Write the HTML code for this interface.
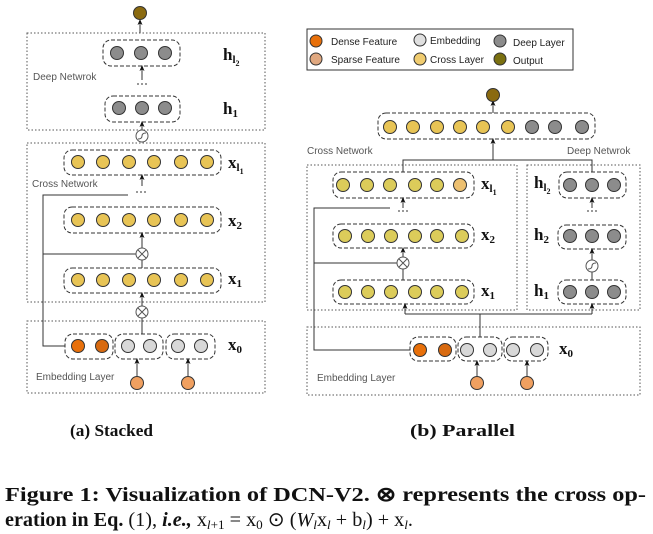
<!DOCTYPE html>
<html><head><meta charset="utf-8"><style>
html,body{margin:0;padding:0;background:#fff;width:653px;height:534px;overflow:hidden}
svg{display:block}
.s{font-family:"Liberation Sans",sans-serif;font-size:10px;fill:#555}
.m{font-family:"Liberation Serif",serif;font-weight:bold;fill:#111}
.cap{font-family:"Liberation Serif",serif;font-weight:bold;fill:#111}
</style></head><body>
<svg width="653" height="534" viewBox="0 0 653 534" xmlns="http://www.w3.org/2000/svg">
<defs>
<marker id="a" markerWidth="6" markerHeight="6" refX="3" refY="3" orient="auto"><path d="M0,0.5 L6,3 L0,5.5 L1.5,3z" fill="#111"/></marker>
</defs>
<g fill="none" stroke="#333" stroke-width="1">
<!-- LEFT dotted boxes -->
<rect x="27" y="33" width="238" height="97" stroke-dasharray="1.5,2" stroke="#555"/>
<rect x="27" y="143" width="238" height="159" stroke-dasharray="1.5,2" stroke="#555"/>
<rect x="27" y="321" width="238" height="72" stroke-dasharray="1.5,2" stroke="#555"/>
<!-- pills -->
<rect x="103" y="40" width="77" height="26" rx="8" stroke-dasharray="4,2"/>
<rect x="105" y="96" width="75" height="26" rx="8" stroke-dasharray="4,2"/>
<rect x="64" y="150" width="157" height="25" rx="8" stroke-dasharray="4,2"/>
<rect x="64" y="207" width="157" height="26" rx="8" stroke-dasharray="4,2"/>
<rect x="64" y="268" width="157" height="25" rx="8" stroke-dasharray="4,2"/>
<rect x="65" y="334" width="48" height="25" rx="8" stroke-dasharray="4,2"/>
<rect x="115" y="334" width="48" height="25" rx="8" stroke-dasharray="4,2"/>
<rect x="166" y="334" width="49" height="25" rx="8" stroke-dasharray="4,2"/>
<!-- connectors left -->
<line x1="140" y1="33" x2="140" y2="22" marker-end="url(#a)"/>
<line x1="142" y1="80" x2="142" y2="68" marker-end="url(#a)"/>
<line x1="137" y1="84" x2="147" y2="84" stroke-dasharray="2,2"/>
<line x1="142" y1="142" x2="142" y2="124" marker-end="url(#a)"/>
<line x1="142" y1="186" x2="142" y2="177" marker-end="url(#a)"/>
<line x1="136" y1="192" x2="147" y2="192" stroke-dasharray="2,2"/>
<polyline points="128,195 43,195 43,346 65,346"/>
<line x1="43" y1="254" x2="137" y2="254"/>
<line x1="142" y1="249" x2="142" y2="235" marker-end="url(#a)"/>
<line x1="142" y1="259" x2="142" y2="268"/>
<line x1="142" y1="307" x2="142" y2="295" marker-end="url(#a)"/>
<line x1="142" y1="317" x2="142" y2="334"/>
<line x1="137" y1="376" x2="137" y2="361" marker-end="url(#a)"/>
<line x1="188" y1="376" x2="188" y2="361" marker-end="url(#a)"/>
<!-- RIGHT -->
<rect x="307" y="29" width="266" height="41" stroke="#333"/>
<rect x="307" y="165" width="210" height="145" stroke-dasharray="1.5,2" stroke="#555"/>
<rect x="527" y="165" width="113" height="145" stroke-dasharray="1.5,2" stroke="#555"/>
<rect x="307" y="327" width="333" height="68" stroke-dasharray="1.5,2" stroke="#555"/>
<rect x="378" y="113" width="217" height="26" rx="8" stroke-dasharray="4,2"/>
<rect x="333" y="172" width="141" height="26" rx="8" stroke-dasharray="4,2"/>
<rect x="333" y="224" width="141" height="24" rx="8" stroke-dasharray="4,2"/>
<rect x="333" y="280" width="141" height="24" rx="8" stroke-dasharray="4,2"/>
<rect x="559" y="172" width="67" height="26" rx="8" stroke-dasharray="4,2"/>
<rect x="558" y="225" width="68" height="24" rx="8" stroke-dasharray="4,2"/>
<rect x="558" y="280" width="68" height="24" rx="8" stroke-dasharray="4,2"/>
<rect x="410" y="337" width="46" height="24" rx="8" stroke-dasharray="4,2"/>
<rect x="458" y="337" width="44" height="24" rx="8" stroke-dasharray="4,2"/>
<rect x="504" y="337" width="44" height="24" rx="8" stroke-dasharray="4,2"/>
<line x1="493" y1="113" x2="493" y2="103" marker-end="url(#a)"/>
<line x1="493" y1="160" x2="493" y2="141" marker-end="url(#a)"/>
<polyline points="403,172 403,160 592,160 592,172"/>
<line x1="403" y1="208" x2="403" y2="200" marker-end="url(#a)"/>
<line x1="398" y1="211" x2="408" y2="211" stroke-dasharray="2,2"/>
<line x1="592" y1="187" x2="592" y2="200" stroke="none"/>
<line x1="592" y1="208" x2="592" y2="200" marker-end="url(#a)"/>
<line x1="587" y1="211" x2="597" y2="211" stroke-dasharray="2,2"/>
<polyline points="390,208 314,208 314,350 410,350"/>
<line x1="314" y1="263" x2="398" y2="263"/>
<line x1="403" y1="258" x2="403" y2="250" marker-end="url(#a)"/>
<line x1="403" y1="268" x2="403" y2="280"/>
<line x1="592" y1="261" x2="592" y2="251" marker-end="url(#a)"/>
<line x1="592" y1="271" x2="592" y2="280"/>
<line x1="480" y1="337" x2="480" y2="314"/>
<polyline points="405,314 592,314"/>
<line x1="405" y1="314" x2="405" y2="306" marker-end="url(#a)"/>
<line x1="592" y1="314" x2="592" y2="306" marker-end="url(#a)"/>
<line x1="477" y1="376" x2="477" y2="363" marker-end="url(#a)"/>
<line x1="527" y1="376" x2="527" y2="363" marker-end="url(#a)"/>
</g>
<!-- op circles -->
<g stroke="#555" fill="#fff" stroke-width="1">
<circle cx="142" cy="136" r="6"/><path d="M138,139 Q142,139 142,136 Q142,133 146,133" fill="none"/>
<circle cx="142" cy="254" r="6"/><path d="M138,250 L146,258 M146,250 L138,258" fill="none"/>
<circle cx="142" cy="312" r="6"/><path d="M138,308 L146,316 M146,308 L138,316" fill="none"/>
<circle cx="403" cy="263" r="6"/><path d="M399,259 L407,267 M407,259 L399,267" fill="none"/>
<circle cx="592" cy="266" r="6"/><path d="M588,269 Q592,269 592,266 Q592,263 596,263" fill="none"/>
</g>
<!-- nodes -->
<g stroke="#333" stroke-width="1">
<circle cx="140" cy="13" r="6.5" fill="#8a6a10"/>
<g fill="#8c8c8c"><circle cx="117" cy="53" r="6.5"/><circle cx="141" cy="53" r="6.5"/><circle cx="165" cy="53" r="6.5"/>
<circle cx="119" cy="108" r="6.5"/><circle cx="142" cy="108" r="6.5"/><circle cx="165" cy="108" r="6.5"/></g>
<g fill="#e8c455">
<circle cx="78" cy="162" r="6.5"/><circle cx="103" cy="162" r="6.5"/><circle cx="129" cy="162" r="6.5"/><circle cx="154" cy="162" r="6.5"/><circle cx="181" cy="162" r="6.5"/><circle cx="207" cy="162" r="6.5"/>
<circle cx="78" cy="220" r="6.5"/><circle cx="103" cy="220" r="6.5"/><circle cx="129" cy="220" r="6.5"/><circle cx="154" cy="220" r="6.5"/><circle cx="181" cy="220" r="6.5"/><circle cx="207" cy="220" r="6.5"/>
<circle cx="78" cy="280" r="6.5"/><circle cx="103" cy="280" r="6.5"/><circle cx="129" cy="280" r="6.5"/><circle cx="154" cy="280" r="6.5"/><circle cx="181" cy="280" r="6.5"/><circle cx="207" cy="280" r="6.5"/>
</g>
<circle cx="78" cy="346" r="6.5" fill="#e8700a"/><circle cx="102" cy="346" r="6.5" fill="#d86a10"/>
<g fill="#d8d8d8"><circle cx="128" cy="346" r="6.5"/><circle cx="150" cy="346" r="6.5"/><circle cx="178" cy="346" r="6.5"/><circle cx="201" cy="346" r="6.5"/></g>
<circle cx="137" cy="383" r="6.5" fill="#f0a060"/><circle cx="188" cy="383" r="6.5" fill="#f0a060"/>
<!-- legend -->
<circle cx="316" cy="41" r="6" fill="#e8700a"/><circle cx="316" cy="59" r="6" fill="#e0a880"/>
<circle cx="420" cy="40" r="6" fill="#e0e0e0"/><circle cx="420" cy="59" r="6" fill="#f0cc70"/>
<circle cx="500" cy="41" r="6" fill="#8c8c8c"/><circle cx="500" cy="59" r="6" fill="#7a7010"/>
<!-- right -->
<circle cx="493" cy="95" r="6.5" fill="#8a6a10"/>
<g fill="#e8c455"><circle cx="390" cy="127" r="6.5"/><circle cx="413" cy="127" r="6.5"/><circle cx="437" cy="127" r="6.5"/><circle cx="460" cy="127" r="6.5"/><circle cx="483" cy="127" r="6.5"/><circle cx="508" cy="127" r="6.5"/></g>
<g fill="#8c8c8c"><circle cx="532" cy="127" r="6.5"/><circle cx="555" cy="127" r="6.5"/><circle cx="582" cy="127" r="6.5"/></g>
<g fill="#dccc5a">
<circle cx="343" cy="185" r="6.5"/><circle cx="367" cy="185" r="6.5"/><circle cx="390" cy="185" r="6.5"/><circle cx="415" cy="185" r="6.5"/><circle cx="437" cy="185" r="6.5"/><circle cx="460" cy="185" r="6.5" fill="#edc070"/>
<circle cx="345" cy="236" r="6.5"/><circle cx="368" cy="236" r="6.5"/><circle cx="391" cy="236" r="6.5"/><circle cx="415" cy="236" r="6.5"/><circle cx="437" cy="236" r="6.5"/><circle cx="462" cy="236" r="6.5"/>
<circle cx="345" cy="292" r="6.5"/><circle cx="368" cy="292" r="6.5"/><circle cx="391" cy="292" r="6.5"/><circle cx="415" cy="292" r="6.5"/><circle cx="437" cy="292" r="6.5"/><circle cx="462" cy="292" r="6.5"/>
</g>
<g fill="#8c8c8c">
<circle cx="570" cy="185" r="6.5"/><circle cx="592" cy="185" r="6.5"/><circle cx="614" cy="185" r="6.5"/>
<circle cx="570" cy="236" r="6.5"/><circle cx="592" cy="236" r="6.5"/><circle cx="614" cy="236" r="6.5"/>
<circle cx="570" cy="292" r="6.5"/><circle cx="592" cy="292" r="6.5"/><circle cx="614" cy="292" r="6.5"/>
</g>
<circle cx="420" cy="350" r="6.5" fill="#e8700a"/><circle cx="445" cy="350" r="6.5" fill="#d86a10"/>
<g fill="#d8d8d8"><circle cx="467" cy="350" r="6.5"/><circle cx="490" cy="350" r="6.5"/><circle cx="513" cy="350" r="6.5"/><circle cx="537" cy="350" r="6.5"/></g>
<circle cx="477" cy="383" r="6.5" fill="#f0a060"/><circle cx="527" cy="383" r="6.5" fill="#f0a060"/>
</g>
<!-- small labels -->
<text class="s" x="33" y="80">Deep Netwrok</text>
<text class="s" x="32" y="187">Cross Network</text>
<text class="s" x="36" y="380">Embedding Layer</text>
<text class="s" x="307" y="154">Cross Network</text>
<text class="s" x="567" y="154">Deep Netwrok</text>
<text class="s" x="317" y="381">Embedding Layer</text>
<g class="s" style="fill:#222">
<text x="331" y="45">Dense Feature</text><text x="331" y="63">Sparse Feature</text>
<text x="430" y="44">Embedding</text><text x="430" y="63">Cross Layer</text>
<text x="513" y="46">Deep Layer</text><text x="513" y="64">Output</text>
</g>
<!-- math labels -->
<g class="m" font-size="17">
<text x="223" y="60">h<tspan font-size="11" dy="3">l</tspan><tspan font-size="8" dy="3">2</tspan></text>
<text x="223" y="114">h<tspan font-size="11" dy="3">1</tspan></text>
<text x="228" y="168">x<tspan font-size="11" dy="3">l</tspan><tspan font-size="8" dy="3">1</tspan></text>
<text x="228" y="226">x<tspan font-size="11" dy="3">2</tspan></text>
<text x="228" y="284">x<tspan font-size="11" dy="3">1</tspan></text>
<text x="228" y="350">x<tspan font-size="11" dy="3">0</tspan></text>
<text x="481" y="189">x<tspan font-size="11" dy="3">l</tspan><tspan font-size="8" dy="3">1</tspan></text>
<text x="481" y="240">x<tspan font-size="11" dy="3">2</tspan></text>
<text x="481" y="296">x<tspan font-size="11" dy="3">1</tspan></text>
<text x="559" y="354">x<tspan font-size="11" dy="3">0</tspan></text>
<text x="534" y="188">h<tspan font-size="11" dy="3">l</tspan><tspan font-size="8" dy="3">2</tspan></text>
<text x="534" y="240">h<tspan font-size="11" dy="3">2</tspan></text>
<text x="534" y="296">h<tspan font-size="11" dy="3">1</tspan></text>
</g>
<text class="cap" x="70" y="436" font-size="17" textLength="83" lengthAdjust="spacingAndGlyphs">(a) Stacked</text>
<text class="cap" x="410" y="436" font-size="17" textLength="105" lengthAdjust="spacingAndGlyphs">(b) Parallel</text>
<text class="cap" x="5" y="501" font-size="20" textLength="641" lengthAdjust="spacingAndGlyphs">Figure 1: Visualization of DCN-V2. ⊗ represents the cross op-</text>
<text class="cap" x="5" y="526" font-size="20" textLength="408" lengthAdjust="spacingAndGlyphs">eration in Eq. <tspan font-weight="normal">(1),</tspan> <tspan font-style="italic">i.e.,</tspan> <tspan font-weight="normal">x<tspan font-size="13" font-style="italic" dy="3">l</tspan><tspan font-size="13" dy="0">+1</tspan><tspan dy="-3"> = x</tspan><tspan font-size="13" dy="3">0</tspan><tspan dy="-3"> ⊙ (</tspan><tspan font-style="italic">W</tspan><tspan font-size="13" font-style="italic" dy="3">l</tspan><tspan dy="-3">x</tspan><tspan font-size="13" font-style="italic" dy="3">l</tspan><tspan dy="-3"> + b</tspan><tspan font-size="13" font-style="italic" dy="3">l</tspan><tspan dy="-3">) + x</tspan><tspan font-size="13" font-style="italic" dy="3">l</tspan><tspan dy="-3">.</tspan></tspan></text>
</svg>
</body></html>
